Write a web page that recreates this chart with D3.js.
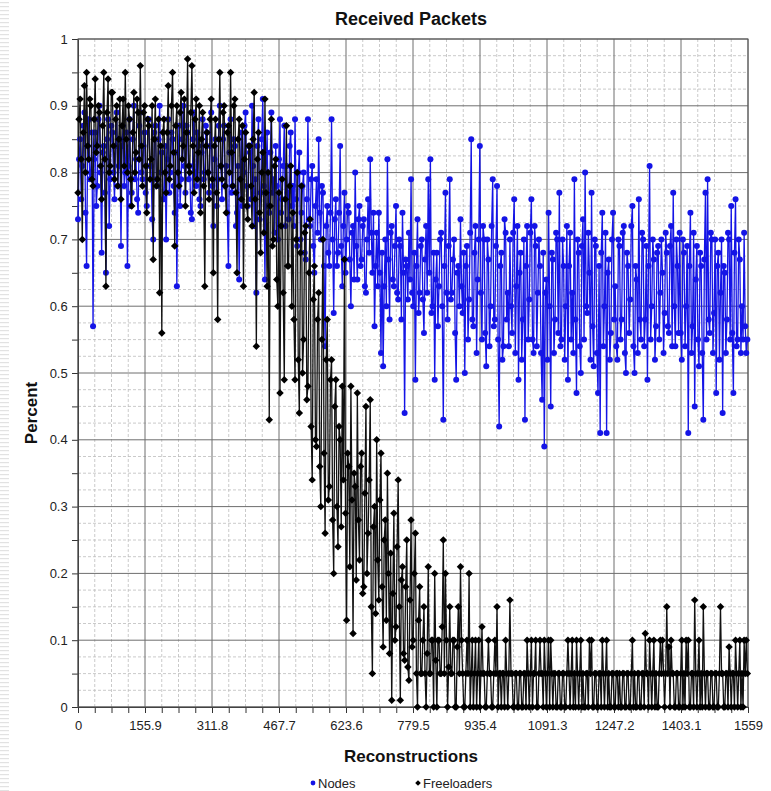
<!DOCTYPE html>
<html><head><meta charset="utf-8">
<script src="https://cdn.jsdelivr.net/npm/d3@7"></script>
<style>body{margin:0;background:#fff;}svg{display:block;font-family:"Liberation Sans",Arial,sans-serif;}</style>
</head><body><svg id="c" width="771" height="791"></svg>
<script>
// ---- data ----
const xStep = 2.5; // reconstruction index spacing between samples
const xTickLabels = ["0","155.9","311.8","467.7","623.6","779.5","935.4","1091.3","1247.2","1403.1","1559"];
const yTickLabels = ["0","0.1","0.2","0.3","0.4","0.5","0.6","0.7","0.8","0.9","1"];
const seriesNames = ["Nodes","Freeloaders"];
const nodes = [
0.73,0.82,0.85,0.76,0.81,0.87,0.89,0.74,0.66,0.84,0.88,0.79,0.80,0.86,0.57,0.82,0.86,0.75,0.78,0.88,
0.90,0.80,0.68,0.83,0.84,0.77,0.65,0.85,0.88,0.72,0.79,0.87,0.86,0.80,0.76,0.84,0.89,0.78,0.81,0.85,
0.69,0.84,0.87,0.78,0.80,0.86,0.66,0.81,0.88,0.75,0.77,0.85,0.90,0.79,0.82,0.76,0.74,0.87,0.89,0.80,
0.79,0.84,0.86,0.77,0.75,0.88,0.88,0.81,0.81,0.73,0.70,0.86,0.87,0.79,0.78,0.85,0.90,0.80,0.83,0.76,
0.76,0.84,0.70,0.82,0.88,0.77,0.80,0.86,0.85,0.78,0.74,0.83,0.63,0.80,0.87,0.75,0.79,0.85,0.90,0.81,
0.77,0.87,0.86,0.79,0.81,0.74,0.73,0.85,0.89,0.80,0.78,0.86,0.84,0.76,0.75,0.83,0.88,0.79,0.80,0.87,
0.86,0.80,0.77,0.84,0.89,0.78,0.72,0.82,0.85,0.75,0.79,0.87,0.90,0.81,0.76,0.85,0.87,0.78,0.81,0.74,
0.66,0.83,0.88,0.77,0.78,0.85,0.84,0.72,0.74,0.81,0.64,0.79,0.86,0.75,0.80,0.87,0.89,0.78,0.75,0.84,
0.83,0.76,0.90,0.81,0.72,0.79,0.62,0.84,0.88,0.73,0.77,0.85,0.91,0.78,0.64,0.80,0.86,0.75,0.74,0.83,
0.89,0.77,0.79,0.71,0.84,0.78,0.70,0.82,0.88,0.74,0.76,0.81,0.87,0.72,0.81,0.77,0.73,0.84,0.86,0.75,
0.78,0.72,0.88,0.76,0.69,0.80,0.83,0.70,0.74,0.78,0.80,0.68,0.67,0.76,0.88,0.73,0.72,0.79,0.81,0.69,
0.65,0.75,0.79,0.71,0.85,0.74,0.70,0.78,0.77,0.66,0.54,0.72,0.75,0.68,0.66,0.74,0.88,0.70,0.59,0.73,
0.76,0.66,0.68,0.74,0.84,0.69,0.63,0.72,0.77,0.65,0.70,0.75,0.74,0.67,0.60,0.71,0.72,0.64,0.80,0.69,
0.64,0.73,0.75,0.66,0.67,0.72,0.73,0.63,0.62,0.70,0.76,0.68,0.82,0.71,0.65,0.74,0.57,0.66,0.71,0.63,
0.74,0.65,0.53,0.68,0.51,0.63,0.70,0.60,0.82,0.67,0.58,0.71,0.72,0.64,0.63,0.69,0.75,0.62,0.61,0.70,
0.69,0.58,0.74,0.65,0.44,0.67,0.66,0.61,0.71,0.64,0.79,0.62,0.60,0.68,0.49,0.66,0.73,0.59,0.62,0.69,
0.70,0.61,0.56,0.67,0.72,0.62,0.79,0.65,0.82,0.59,0.60,0.68,0.49,0.64,0.68,0.57,0.63,0.70,0.71,0.60,
0.43,0.66,0.77,0.62,0.58,0.69,0.79,0.61,0.62,0.67,0.70,0.56,0.49,0.65,0.66,0.60,0.73,0.63,0.59,0.68,
0.50,0.66,0.69,0.55,0.61,0.71,0.85,0.58,0.57,0.68,0.72,0.53,0.64,0.70,0.84,0.62,0.55,0.72,0.70,0.56,
0.51,0.70,0.67,0.54,0.60,0.72,0.79,0.57,0.58,0.69,0.78,0.55,0.42,0.66,0.68,0.52,0.54,0.73,0.71,0.58,
0.62,0.54,0.70,0.60,0.56,0.71,0.76,0.53,0.63,0.72,0.49,0.65,0.68,0.52,0.58,0.70,0.43,0.66,0.72,0.55,
0.61,0.71,0.76,0.55,0.53,0.72,0.69,0.54,0.62,0.70,0.66,0.53,0.46,0.68,0.39,0.62,0.64,0.52,0.74,0.60,
0.45,0.68,0.67,0.53,0.58,0.71,0.70,0.56,0.77,0.54,0.55,0.70,0.66,0.52,0.60,0.72,0.49,0.66,0.71,0.55,
0.62,0.53,0.79,0.58,0.47,0.70,0.68,0.54,0.50,0.69,0.73,0.55,0.80,0.60,0.59,0.71,0.65,0.52,0.77,0.57,
0.51,0.70,0.69,0.53,0.47,0.66,0.41,0.68,0.74,0.54,0.60,0.71,0.41,0.65,0.67,0.52,0.56,0.70,0.74,0.58,
0.63,0.54,0.52,0.70,0.69,0.55,0.58,0.71,0.72,0.53,0.50,0.68,0.66,0.56,0.61,0.72,0.75,0.54,0.50,0.66,
0.64,0.53,0.76,0.58,0.55,0.71,0.70,0.54,0.58,0.69,0.49,0.66,0.81,0.55,0.60,0.70,0.67,0.52,0.57,0.68,
0.69,0.55,0.62,0.70,0.65,0.53,0.59,0.71,0.68,0.57,0.56,0.69,0.72,0.54,0.77,0.60,0.54,0.70,0.66,0.56,
0.71,0.56,0.52,0.70,0.68,0.54,0.60,0.69,0.41,0.66,0.74,0.53,0.57,0.71,0.45,0.64,0.69,0.55,0.51,0.68,
0.66,0.53,0.43,0.67,0.77,0.55,0.79,0.58,0.56,0.71,0.70,0.53,0.59,0.70,0.47,0.66,0.68,0.52,0.62,0.70,
0.44,0.66,0.65,0.53,0.58,0.71,0.70,0.55,0.75,0.56,0.47,0.68,0.76,0.54,0.55,0.70,0.67,0.53,0.60,0.55,
0.71,0.57,0.53,0.55
];
const freeloaders = [
0.77,0.88,0.91,0.82,0.70,0.86,0.93,0.80,0.95,0.84,0.82,0.91,0.90,0.79,0.78,0.88,0.94,0.83,0.84,0.90,
0.89,0.81,0.76,0.87,0.95,0.82,0.63,0.89,0.94,0.80,0.81,0.92,0.92,0.84,0.79,0.88,0.90,0.78,0.85,0.91,
0.76,0.87,0.91,0.81,0.95,0.85,0.80,0.90,0.88,0.79,0.75,0.86,0.92,0.80,0.83,0.91,0.89,0.82,0.96,0.84,
0.78,0.89,0.90,0.81,0.74,0.88,0.87,0.79,0.82,0.90,0.67,0.85,0.91,0.78,0.79,0.88,0.62,0.84,0.56,0.86,
0.88,0.80,0.77,0.86,0.93,0.79,0.81,0.90,0.95,0.83,0.69,0.87,0.90,0.80,0.78,0.89,0.92,0.82,0.84,0.91,
0.75,0.86,0.97,0.81,0.80,0.89,0.96,0.84,0.77,0.88,0.91,0.79,0.83,0.90,0.74,0.85,0.89,0.78,0.63,0.84,
0.86,0.80,0.76,0.88,0.91,0.79,0.65,0.84,0.88,0.77,0.58,0.85,0.95,0.81,0.79,0.89,0.90,0.78,0.74,0.86,
0.87,0.80,0.95,0.83,0.78,0.90,0.91,0.77,0.65,0.85,0.88,0.79,0.76,0.87,0.63,0.82,0.86,0.75,0.73,0.84,
0.84,0.78,0.72,0.85,0.92,0.76,0.54,0.82,0.86,0.74,0.68,0.80,0.83,0.71,0.91,0.77,0.63,0.80,0.43,0.75,
0.88,0.69,0.70,0.81,0.82,0.64,0.60,0.77,0.47,0.72,0.79,0.62,0.49,0.76,0.87,0.66,0.66,0.78,0.81,0.60,
0.74,0.58,0.49,0.70,0.80,0.52,0.44,0.68,0.78,0.50,0.55,0.71,0.72,0.46,0.48,0.65,0.73,0.42,0.34,0.61,
0.66,0.40,0.39,0.58,0.62,0.36,0.30,0.55,0.70,0.38,0.26,0.52,0.58,0.31,0.33,0.49,0.52,0.28,0.20,0.45,
0.49,0.30,0.24,0.42,0.40,0.27,0.48,0.34,0.67,0.29,0.13,0.38,0.36,0.21,0.48,0.31,0.11,0.35,0.33,0.19,
0.47,0.28,0.22,0.36,0.38,0.17,0.18,0.32,0.45,0.20,0.26,0.34,0.46,0.15,0.05,0.27,0.30,0.14,0.40,0.22,
0.16,0.31,0.38,0.18,0.09,0.25,0.28,0.13,0.35,0.20,0.08,0.23,0.01,0.17,0.29,0.10,0.12,0.24,0.34,0.15,
0.01,0.19,0.21,0.08,0.07,0.18,0.25,0.06,0.04,0.16,0.28,0.09,0.10,0.20,0.26,0.05,0.00,0.13,0.18,0.05,
0.05,0.10,0.15,0.05,0.00,0.08,0.21,0.05,0.05,0.10,0.10,0.00,0.20,0.07,0.00,0.10,0.10,0.05,0.05,0.12,
0.25,0.05,0.20,0.10,0.00,0.06,0.15,0.05,0.05,0.10,0.10,0.00,0.00,0.09,0.15,0.05,0.21,0.10,0.05,0.00,
0.00,0.05,0.10,0.05,0.20,0.00,0.05,0.10,0.00,0.05,0.10,0.00,0.05,0.10,0.00,0.05,0.12,0.05,0.05,0.00,
0.00,0.05,0.10,0.05,0.05,0.00,0.00,0.05,0.10,0.05,0.15,0.00,0.05,0.05,0.00,0.05,0.05,0.00,0.10,0.05,
0.00,0.05,0.16,0.05,0.05,0.00,0.00,0.05,0.05,0.00,0.00,0.05,0.05,0.00,0.00,0.05,0.05,0.00,0.10,0.05,
0.00,0.05,0.10,0.00,0.05,0.05,0.10,0.00,0.00,0.05,0.10,0.05,0.05,0.00,0.10,0.05,0.00,0.05,0.10,0.00,
0.10,0.05,0.00,0.05,0.05,0.00,0.00,0.05,0.05,0.00,0.00,0.05,0.05,0.00,0.00,0.05,0.10,0.05,0.00,0.05,
0.10,0.00,0.05,0.00,0.10,0.05,0.00,0.05,0.10,0.00,0.05,0.00,0.00,0.05,0.05,0.00,0.10,0.05,0.10,0.00,
0.00,0.05,0.05,0.00,0.00,0.05,0.05,0.00,0.10,0.05,0.00,0.05,0.10,0.00,0.05,0.00,0.00,0.05,0.05,0.00,
0.00,0.05,0.05,0.00,0.05,0.00,0.00,0.05,0.05,0.00,0.00,0.05,0.05,0.00,0.00,0.05,0.10,0.00,0.05,0.00,
0.00,0.05,0.05,0.00,0.00,0.05,0.05,0.00,0.11,0.05,0.05,0.00,0.10,0.05,0.00,0.05,0.10,0.00,0.05,0.00,
0.00,0.05,0.10,0.05,0.10,0.05,0.00,0.05,0.15,0.05,0.09,0.00,0.10,0.05,0.05,0.00,0.00,0.05,0.05,0.00,
0.00,0.05,0.10,0.00,0.05,0.00,0.10,0.05,0.10,0.00,0.00,0.05,0.05,0.00,0.16,0.05,0.00,0.05,0.10,0.00,
0.05,0.00,0.15,0.05,0.00,0.05,0.05,0.00,0.00,0.05,0.05,0.00,0.00,0.05,0.05,0.00,0.00,0.05,0.15,0.05,
0.05,0.00,0.00,0.05,0.05,0.00,0.09,0.05,0.00,0.05,0.05,0.00,0.10,0.05,0.00,0.05,0.10,0.00,0.05,0.00,
0.10,0.05,0.10,0.05
];

// ---- chart ----
const svg = d3.select("#c");
const L=78,R=748,T=39,B=707;
const x = d3.scaleLinear().domain([0,1559]).range([L,R]);
const y = d3.scaleLinear().domain([0,1]).range([B,T]);

// left edge decoration
svg.append("g").selectAll("rect").data(d3.range(2,791,4)).join("rect")
  .attr("x",0).attr("y",d=>d).attr("width",9).attr("height",1.2).attr("fill","#e2e2e2");

const grid = svg.append("g");
const minorX = d3.range(0,41).map(i=>i*1559/40);
const minorY = d3.range(0,41).map(i=>i/40);
grid.selectAll(".mx").data(minorX.filter((d,i)=>i%4)).join("line")
  .attr("x1",d=>x(d)).attr("x2",d=>x(d)).attr("y1",T).attr("y2",B)
  .attr("stroke","#bdbdbd").attr("stroke-dasharray","3,2").attr("stroke-width",0.8);
grid.selectAll(".my").data(minorY.filter((d,i)=>i%4)).join("line")
  .attr("y1",d=>y(d)).attr("y2",d=>y(d)).attr("x1",L).attr("x2",R)
  .attr("stroke","#bdbdbd").attr("stroke-dasharray","3,2").attr("stroke-width",0.8);
const majorX = xTickLabels.map((s,i)=>i*155.9);
const majorY = yTickLabels.map((s,i)=>i/10);
grid.selectAll(".Mx").data(majorX).join("line")
  .attr("x1",d=>x(d)).attr("x2",d=>x(d)).attr("y1",T).attr("y2",B)
  .attr("stroke","#6e6e6e").attr("stroke-width",1);
grid.selectAll(".My").data(majorY).join("line")
  .attr("y1",d=>y(d)).attr("y2",d=>y(d)).attr("x1",L).attr("x2",R)
  .attr("stroke","#6e6e6e").attr("stroke-width",1);

// axes
const xAxis = d3.axisBottom(x).tickValues(minorX).tickSize(6)
  .tickFormat((d,i)=> i%4===0 ? xTickLabels[i/4] : "");
const gx = svg.append("g").attr("transform",`translate(0,${B})`).call(xAxis);
gx.select(".domain").attr("stroke","#333");
gx.selectAll(".tick line").attr("stroke","#333");
gx.selectAll("text").attr("font-size",13).attr("fill","#222").attr("dy","1.05em");

const yTicks = d3.range(0,21).map(i=>i/20);
const yAxis = d3.axisLeft(y).tickValues(yTicks).tickSize(6)
  .tickFormat((d,i)=> i%2===0 ? yTickLabels[i/2] : "");
const gy = svg.append("g").attr("transform",`translate(${L},0)`).call(yAxis);
gy.select(".domain").attr("stroke","#333");
gy.selectAll(".tick line").attr("stroke","#333");
gy.selectAll("text").attr("font-size",13).attr("fill","#222").attr("dx","-0.1em");

// frame
svg.append("rect").attr("x",L).attr("y",T).attr("width",R-L).attr("height",B-T)
  .attr("fill","none").attr("stroke","#555");

// series
svg.append("clipPath").attr("id","clp").append("rect")
  .attr("x",L-5).attr("y",T-5).attr("width",R-L+10).attr("height",B-T+10);
const plot = svg.append("g").attr("clip-path","url(#clp)");
const line = d3.line().x((d,i)=>x(i*xStep)).y(d=>y(d));
const blue = "#1414e6";
plot.append("path").datum(nodes).attr("d",line).attr("fill","none").attr("stroke",blue).attr("stroke-width",1.3);
plot.append("g").selectAll("circle").data(nodes).join("circle")
  .attr("cx",(d,i)=>x(i*xStep)).attr("cy",d=>y(d)).attr("r",3).attr("fill",blue);
plot.append("path").datum(freeloaders).attr("d",line).attr("fill","none").attr("stroke","#111").attr("stroke-width",1.3);
const diamond = d3.symbol().type(d3.symbolSquare).size(28);
plot.append("g").selectAll("path").data(freeloaders).join("path")
  .attr("transform",(d,i)=>`translate(${x(i*xStep)},${y(d)}) rotate(45)`).attr("d",diamond).attr("fill","#000");

// titles
svg.append("text").attr("x",411).attr("y",25).attr("text-anchor","middle")
  .attr("font-size",18).attr("font-weight","bold").attr("fill","#111").text("Received Packets");
svg.append("text").attr("x",411).attr("y",762).attr("text-anchor","middle")
  .attr("font-size",17).attr("font-weight","bold").attr("fill","#111").text("Reconstructions");
svg.append("text").attr("transform","translate(37,413) rotate(-90)").attr("text-anchor","middle")
  .attr("font-size",17).attr("font-weight","bold").attr("fill","#111").text("Percent");

// legend
const leg = svg.append("g").attr("font-size",13).attr("fill","#222");
leg.append("circle").attr("cx",313).attr("cy",783).attr("r",2.4).attr("fill",blue);
leg.append("text").attr("x",318).attr("y",788).text(seriesNames[0]);
leg.append("path").attr("transform","translate(418,783) rotate(45)").attr("d",d3.symbol().type(d3.symbolSquare).size(16)()).attr("fill","#000");
leg.append("text").attr("x",423).attr("y",788).text(seriesNames[1]);
</script></body></html>
